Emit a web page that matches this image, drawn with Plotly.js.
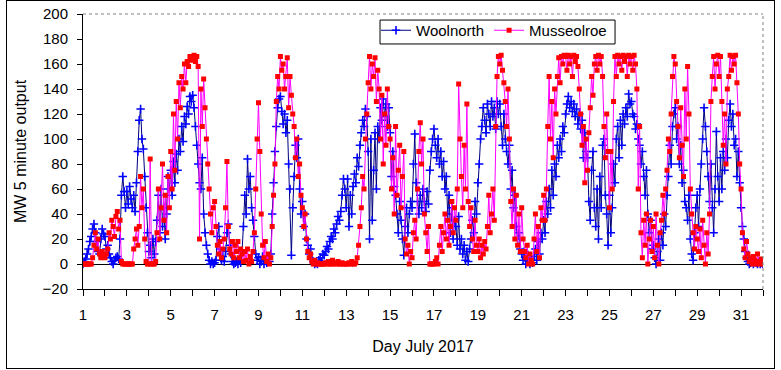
<!DOCTYPE html>
<html><head><meta charset="utf-8">
<script src="https://cdn.plot.ly/plotly-3.0.1.min.js"></script>
<style>
html,body{margin:0;padding:0;background:#fff}
#chart{width:781px;height:370px}
#frame{position:absolute;left:6px;top:0px;width:767px;height:367px;border:1px solid #000;pointer-events:none}
</style>
</head><body>
<div id="chart"></div><div id="frame"></div>
<script>
// Readings every 1.5 hours, starting 1 July 00:00 (day 1.0)
const START_DAY = 1;
const STEP_DAYS = 0.0625;

const woolnorth = [
  0, 2, 4, 8, 12, 18, 22, 28, 32, 25, 18, 10, 8, 20, 28, 24,            // 1
  22, 12, 15, 8, 5, 2, 0, 3, 5, 6, 4, 20, 55, 70, 58, 45,               // 2
  58, 48, 62, 52, 45, 55, 42, 65, 90, 115, 124, 100, 92, 70, 45, 25,    // 3
  10, 15, 5, 20, 8, 18, 35, 55, 25, 60, 30, 45, 20, 40, 70, 60,         // 4
  75, 55, 82, 65, 88, 75, 100, 90, 110, 98, 118, 112, 126, 120, 134, 130, // 5
  135, 125, 110, 95, 80, 65, 60, 85, 40, 25, 15, 8, 3, 0, 2, 0,         // 6
  1, 3, 22, 30, 12, 3, 6, 2, 10, 25, 32, 15, 8, 2, 0, 1,                // 7
  2, 0, 3, 1, 10, 30, 55, 40, 84, 60, 70, 45, 35, 22, 8, 3,             // 8
  5, 0, 2, 6, 0, 3, 1, 4, 2, 8, 40, 65, 90, 110, 125, 132,              // 9
  134, 122, 112, 120, 105, 115, 80, 60, 7, 45, 70, 95, 85, 100, 60, 40, // 10
  50, 30, 40, 20, 15, 8, 12, 4, 2, 0, 1, 0, 3, 5, 2, 8,                 // 11
  7, 10, 14, 12, 18, 22, 20, 28, 25, 32, 38, 35, 42, 55, 68, 60,        // 12
  45, 68, 30, 55, 40, 62, 72, 65, 85, 78, 95, 105, 115, 110, 124, 118,  // 13
  90, 20, 100, 35, 75, 105, 60, 110, 100, 125, 115, 132, 118, 128, 110, 125, // 14
  105, 70, 90, 62, 55, 40, 25, 50, 35, 20, 7, 30, 45, 25, 40, 50,       // 15
  45, 80, 104, 65, 50, 40, 55, 45, 60, 50, 42, 58, 48, 75, 90, 100,     // 16
  108, 95, 85, 100, 80, 90, 70, 82, 60, 70, 40, 55, 25, 45, 20, 35,     // 17
  30, 15, 38, 12, 20, 8, 15, 3, 10, 2, 12, 20, 35, 25, 50, 40,          // 18
  65, 80, 100, 110, 125, 115, 105, 128, 120, 110, 130, 118, 125, 108, 130, 120, // 19
  128, 110, 95, 120, 100, 90, 80, 95, 60, 75, 45, 55, 30, 20, 25, 12,   // 20
  8, 3, 10, 0, 5, 2, 0, 4, 1, 6, 12, 3, 18, 8, 25, 20,                  // 21
  35, 25, 50, 40, 60, 45, 75, 55, 80, 70, 95, 85, 100, 90, 110, 105,    // 22
  120, 128, 134, 125, 130, 122, 128, 118, 124, 112, 120, 108, 115, 85, 105, 90, // 23
  85, 50, 35, 75, 90, 45, 30, 60, 20, 70, 45, 95, 100, 55, 40, 15,      // 24
  55, 25, 45, 80, 65, 100, 110, 85, 115, 95, 120, 112, 125, 118, 136, 128, // 25
  130, 120, 118, 108, 112, 100, 95, 80, 90, 70, 55, 75, 40, 25, 35, 12, // 26
  15, 5, 0, 10, 20, 3, 25, 15, 40, 30, 55, 70, 95, 80, 110, 120,        // 27
  125, 100, 110, 80, 95, 65, 75, 50, 45, 35, 55, 20, 8, 3, 25, 45,      // 28
  55, 30, 60, 80, 100, 125, 110, 90, 70, 50, 80, 45, 25, 60, 106, 70,   // 29
  50, 85, 60, 90, 75, 100, 85, 115, 128, 110, 120, 95, 100, 70, 90, 65, // 30
  45, 30, 20, 10, 5, 2, 0, 1, 3, 0, 2, 1, 0, 2, 0, 1,                   // 31
  0
];

const musselroe = [
  0, 0, 0, 0, 0, 0, 0, 5, 15, 25, 12, 20, 8, 5, 10, 6,                  // 1
  5, 8, 12, 25, 20, 35, 30, 22, 38, 42, 28, 35, 2, 0, 0, 0,             // 2
  0, 0, 0, 0, 0, 12, 20, 28, 15, 30, 70, 45, 60, 20, 2, 0,              // 3
  0, 84, 0, 0, 0, 2, 25, 60, 20, 45, 80, 35, 55, 25, 70, 45,            // 4
  90, 60, 120, 75, 130, 100, 145, 125, 150, 140, 160, 145, 162, 158, 166, 163, // 5
  165, 167, 162, 166, 158, 20, 140, 110, 148, 125, 100, 80, 60, 40, 25, 45, // 6
  50, 30, 15, 8, 18, 5, 12, 20, 45, 82, 30, 12, 8, 18, 5, 15,           // 7
  10, 18, 5, 12, 8, 2, 10, 3, 12, 0, 6, 2, 10, 25, 60, 100,             // 8
  129, 90, 40, 15, 5, 18, 2, 8, 0, 5, 30, 55, 80, 130, 150, 140,        // 9
  166, 155, 160, 140, 150, 165, 125, 150, 135, 120, 110, 85, 100, 70, 80, 55, // 10
  45, 30, 40, 20, 10, 5, 8, 2, 0, 3, 0, 1, 0, 0, 0, 0,                  // 11
  0, 1, 0, 2, 0, 0, 3, 0, 1, 0, 2, 0, 0, 1, 0, 0,                       // 12
  0, 0, 1, 0, 2, 0, 0, 1, 5, 15, 30, 45, 70, 60, 100, 120,              // 13
  145, 166, 140, 160, 150, 165, 130, 155, 140, 100, 135, 80, 120, 95, 140, 110, // 14
  100, 60, 85, 40, 110, 55, 75, 95, 45, 70, 90, 20, 8, 15, 0, 10,       // 15
  5, 25, 35, 20, 60, 90, 113, 80, 100, 40, 25, 10, 30, 0, 0, 0,         // 16
  0, 2, 5, 0, 15, 30, 10, 25, 40, 20, 35, 15, 30, 50, 25, 45,           // 17
  35, 60, 144, 100, 70, 45, 95, 60, 128, 50, 30, 45, 20, 10, 35, 15,    // 18
  10, 20, 5, 15, 8, 18, 12, 30, 55, 25, 40, 60, 35, 110, 150, 166,      // 19
  160, 167, 155, 145, 130, 110, 140, 100, 50, 30, 60, 20, 55, 15, 40, 10, // 20
  45, 20, 10, 5, 15, 0, 8, 3, 0, 20, 40, 10, 30, 5, 45, 35,             // 21
  55, 35, 60, 110, 150, 100, 130, 85, 140, 120, 150, 165, 145, 166, 160, 167, // 22
  166, 155, 167, 160, 166, 150, 167, 162, 166, 158, 140, 120, 95, 110, 65, 100, // 23
  75, 105, 125, 150, 135, 160, 166, 155, 167, 160, 166, 150, 110, 85, 120, 90, // 24
  45, 90, 60, 130, 166, 150, 167, 160, 166, 155, 167, 162, 166, 150, 167, 160, // 25
  166, 155, 167, 160, 140, 60, 110, 25, 5, 35, 15, 40, 0, 20, 35, 10,   // 26
  30, 5, 40, 15, 0, 25, 35, 55, 40, 60, 75, 100, 90, 120, 150, 166,     // 27
  160, 130, 110, 85, 125, 95, 70, 140, 100, 158, 120, 60, 40, 25, 12, 30, // 28
  20, 10, 28, 5, 35, 15, 0, 25, 8, 40, 130, 150, 166, 140, 160, 167,    // 29
  150, 166, 130, 95, 120, 80, 140, 150, 167, 155, 166, 160, 167, 145, 120, 80, // 30
  60, 25, 12, 5, 18, 8, 2, 5, 0, 6, 3, 0, 8, 2, 0, 4,                   // 31
  0
];

const seriesNames = ['Woolnorth', 'Musseolroe'];
const dayTicks = [];
const dayTickText = [];
for (let d = 1; d <= 32; d++) { dayTicks.push(d); dayTickText.push(d % 2 === 1 && d < 32 ? String(d) : ''); }

const timeOf = arr => arr.map((_, i) => START_DAY + i * STEP_DAYS);

const traces = [
  {
    x: timeOf(woolnorth), y: woolnorth, name: seriesNames[0], type: 'scatter', mode: 'lines+markers',
    line: {color: '#000080', width: 1},
    marker: {symbol: 'cross-thin', size: 6, color: '#0000FF', line: {color: '#0000FF', width: 1.6}}
  },
  {
    x: timeOf(musselroe), y: musselroe, name: seriesNames[1], type: 'scatter', mode: 'lines+markers',
    line: {color: '#FF00FF', width: 1},
    marker: {symbol: 'square', size: 5, color: '#FF0000', line: {width: 0}}
  }
];

// plot area: x 83..763 px, y 14..289 px
const layout = {
  width: 781, height: 370,
  margin: {l: 83, r: 18, t: 14, b: 81, pad: 0},
  paper_bgcolor: '#ffffff', plot_bgcolor: '#ffffff',
  font: {family: 'Arial, "Liberation Sans", sans-serif', size: 15, color: '#000'},
  showlegend: true,
  legend: {orientation: 'h', x: 0.4309, y: 1.0, xanchor: 'left', yanchor: 'top',
           borderwidth: 0, bgcolor: 'rgba(0,0,0,0)', font: {size: 15}},
  xaxis: {
    range: [1, 32], tickmode: 'array', tickvals: dayTicks, ticktext: dayTickText,
    ticks: 'outside', ticklen: 6, tickcolor: '#000', tickwidth: 1, ticklabelstandoff: 6,
    showline: true, linecolor: '#000', linewidth: 1, showgrid: false, zeroline: false,
    title: {text: 'Day July 2017', font: {size: 16}, standoff: 18}
  },
  yaxis: {
    range: [-20, 200], tickmode: 'linear', tick0: 0, dtick: 20,
    ticks: 'outside', ticklen: 5, tickcolor: '#000', tickwidth: 1, ticklabelstandoff: 6,
    showline: true, linecolor: '#000', linewidth: 1, showgrid: false,
    zeroline: true, zerolinecolor: '#000', zerolinewidth: 1,
    title: {text: 'MW 5 minute output', font: {size: 16}, standoff: 11}
  },
  shapes: [
    {type: 'line', xref: 'paper', yref: 'paper', x0: 0, x1: 1, y0: 1, y1: 1, line: {color: '#808080', width: 1, dash: 'dot'}},
    {type: 'line', xref: 'paper', yref: 'paper', x0: 1, x1: 1, y0: 0, y1: 1, line: {color: '#808080', width: 1, dash: 'dot'}},
    {type: 'rect', xref: 'paper', yref: 'paper', layer: 'above', x0: 0.4368, x1: 0.7824, y0: 0.891, y1: 0.978,
     fillcolor: '#ffffff', line: {color: '#000', width: 1}}
  ]
};

Plotly.newPlot('chart', traces, layout, {displayModeBar: false, staticPlot: true});
</script>
</body></html>
